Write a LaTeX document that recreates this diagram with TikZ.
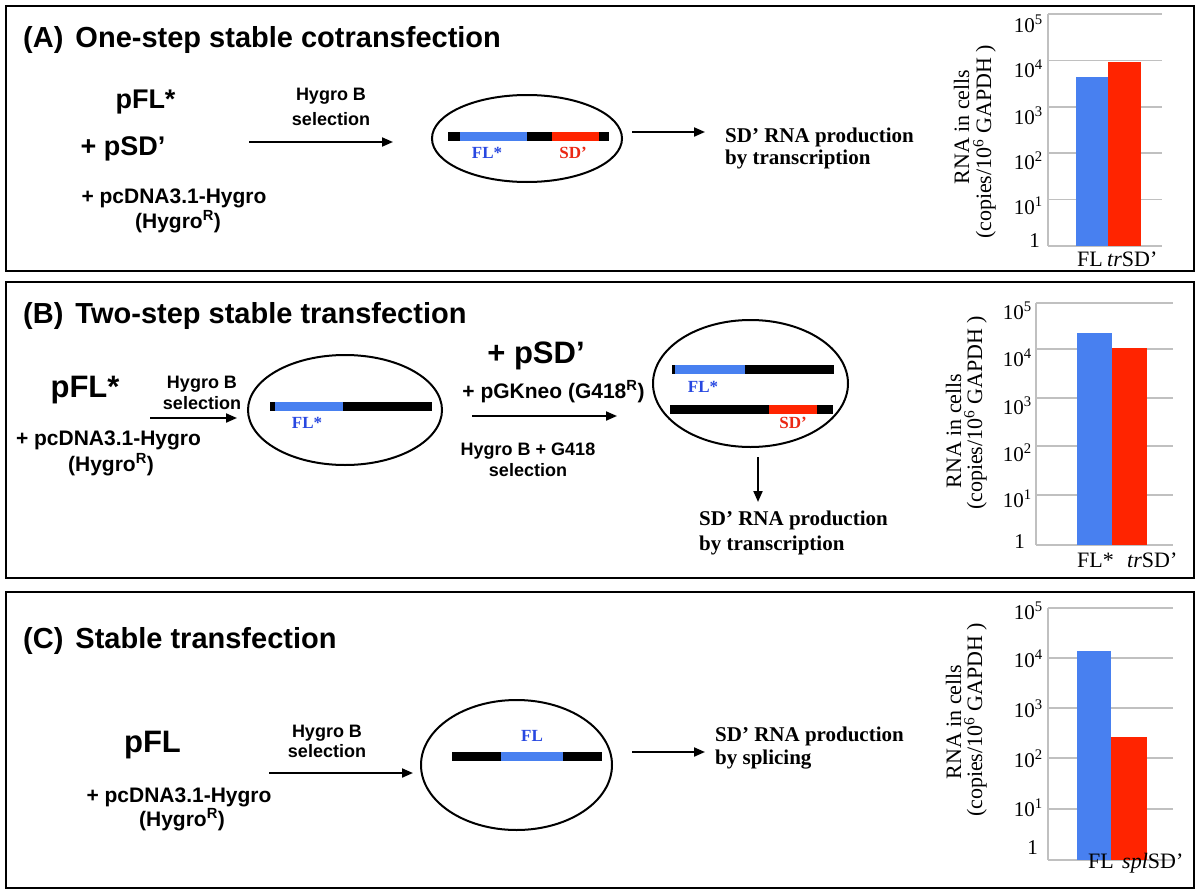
\documentclass[tikz,border=0pt]{standalone}
\usepackage{fontspec}
\setmainfont{Liberation Serif}
\setsansfont{Liberation Sans}
\usetikzlibrary{arrows.meta,shapes.geometric}
\definecolor{barblue}{RGB}{72,128,240}
\definecolor{barred}{RGB}{255,36,0}
\definecolor{txtblue}{RGB}{40,72,225}
\definecolor{txtred}{RGB}{235,40,20}
\definecolor{gridgray}{RGB}{192,192,192}
\tikzset{
 panel/.style={draw=black, line width=2.6pt},
 arr/.style={line width=2pt, -{Triangle[length=11pt,width=9pt]}},
 ttl/.style={font=\sffamily\bfseries\fontsize{29}{32}\selectfont, anchor=base west, inner sep=0pt},
 bigA/.style={font=\sffamily\bfseries\fontsize{27}{32}\selectfont, anchor=base, inner sep=0pt},
 big/.style={font=\sffamily\bfseries\fontsize{31}{36}\selectfont, anchor=base, inner sep=0pt},
 mid/.style={font=\sffamily\bfseries\fontsize{21}{24}\selectfont, anchor=base, inner sep=0pt},
 sel/.style={font=\sffamily\bfseries\fontsize{18}{20}\selectfont, anchor=base, inner sep=0pt},
 res/.style={font=\rmfamily\bfseries\fontsize{21}{24}\selectfont, anchor=base west, inner sep=0pt},
 cell/.style={draw, ellipse, line width=2pt, inner sep=0pt},
 dna/.style={line width=9pt},
 glab/.style={font=\rmfamily\bfseries\fontsize{17}{20}\selectfont, anchor=base, inner sep=0pt},
 ticklab/.style={font=\rmfamily\fontsize{21}{24}\selectfont, anchor=base east, inner sep=0pt},
 axl/.style={font=\rmfamily\fontsize{22}{24}\selectfont, anchor=base, rotate=90, inner sep=0pt},
 xl/.style={font=\rmfamily\fontsize{22}{24}\selectfont, anchor=base west, inner sep=0pt},
 gline/.style={draw=gridgray, line width=1.5pt},
}
\begin{document}
\begin{tikzpicture}[x=1pt,y=-1pt]
\fill[white] (0,0) rectangle (1200,894);
\useasboundingbox (0,0) rectangle (1200,894);

% ---------------- Panel A ----------------
\draw[panel] (6,6) rectangle (1194,271);
\node[ttl] (tA) at (23,47) {(A)\hspace{4pt} One-step stable cotransfection};
\node[bigA] (pflA) at (145.5,108) {pFL*};
\node[bigA] (psdA) at (123,155) {+ pSD’};
\node[mid] (pcA) at (174,203) {+ pcDNA3.1-Hygro};
\node[mid] (hrA) at (178,228) {(Hygro\textsuperscript{R})};
\node[sel] (hbA) at (331,100) {Hygro B};
\node[sel] (slA) at (331,125) {selection};
\coordinate (a1s) at (249,142);
\coordinate (a1e) at (393,142);
\draw[arr] (a1s) -- (a1e);
\node[cell, minimum width=190pt, minimum height=87pt] (cellA) at (527,138.5) {};
\draw[dna] (448,136) -- (609,136);
\draw[dna, barblue] (460,136) -- (527,136);
\draw[dna, barred] (552,136) -- (599,136);
\node[glab, txtblue] (flA) at (487,158) {FL*};
\node[glab, txtred] (sdA) at (573,158) {SD’};
\coordinate (a2s) at (632,132);
\coordinate (a2e) at (705,132);
\draw[arr] (a2s) -- (a2e);
\node[res] (r1A) at (725,142) {SD’ RNA production};
\node[res] (r2A) at (725,164) {by transcription};

% chart A
\foreach \yy in {14,60.4,106.8,153.2,199.6,246} \draw[gline] (1048,\yy) -- (1162,\yy);
\draw[gline] (1048,14) -- (1048,246);
\fill[barblue] (1076,77) rectangle (1108,246);
\fill[barred] (1108,62) rectangle (1141,246);
\node[ticklab] (yA5) at (1043,32) {10\textsuperscript{5}};
\node[ticklab] (yA4) at (1043,77) {10\textsuperscript{4}};
\node[ticklab] (yA3) at (1043,124) {10\textsuperscript{3}};
\node[ticklab] (yA2) at (1043,169) {10\textsuperscript{2}};
\node[ticklab] (yA1) at (1043,214) {10\textsuperscript{1}};
\node[ticklab] (yA0) at (1040,247) {1};
\node[axl] (lA1) at (969,127) {RNA in cells};
\node[axl] (lA2) at (991,142) {(copies/10\textsuperscript{6} GAPDH )};
\node[xl] (xA1) at (1077,266) {FL};
\node[xl] (xA2) at (1107,266) {\textit{tr}SD’};

% ---------------- Panel B ----------------
\draw[panel] (6,282) rectangle (1194,578);
\node[ttl] (tB) at (23,323) {(B)\hspace{4pt} Two-step stable transfection};
\node[big] (pflB) at (85,397) {pFL*};
\node[sel] (hbB) at (202,388) {Hygro B};
\node[sel] (slB) at (202,409) {selection};
\coordinate (b1s) at (150,418);
\coordinate (b1e) at (237,418);
\draw[arr] (b1s) -- (b1e);
\node[mid] (pcB) at (108.5,445) {+ pcDNA3.1-Hygro};
\node[mid] (hrB) at (111,471) {(Hygro\textsuperscript{R})};
\node[cell, minimum width=194pt, minimum height=110pt] (cellB1) at (345,410) {};
\draw[dna] (270,406) -- (432,406);
\draw[dna, barblue] (275,406) -- (343,406);
\node[glab, txtblue] (flB1) at (307,428) {FL*};
\node[big] (psdB) at (536,363) {+ pSD’};
\node[mid] (pgB) at (553.5,398) {+ pGKneo (G418\textsuperscript{R})};
\coordinate (b2s) at (472,416);
\coordinate (b2e) at (617,416);
\draw[arr] (b2s) -- (b2e);
\node[sel] (hgB) at (528,455) {Hygro B + G418};
\node[sel] (sgB) at (528,476) {selection};
\node[cell, minimum width=195pt, minimum height=127pt] (cellB2) at (750.5,383.5) {};
\draw[dna] (672,369) -- (834,369);
\draw[dna, barblue] (675,369) -- (745,369);
\node[glab, txtblue] (flB2) at (703,392) {FL*};
\draw[dna] (670,409) -- (833,409);
\draw[dna, barred] (769,409) -- (817,409);
\node[glab, txtred] (sdB) at (793,428) {SD’};
\coordinate (b3s) at (758,457);
\coordinate (b3e) at (758,502);
\draw[arr] (b3s) -- (b3e);
\node[res] (r1B) at (699,525) {SD’ RNA production};
\node[res] (r2B) at (699,550) {by transcription};

% chart B
\foreach \yy in {303,349,398,446,495,545} \draw[gline] (1036,\yy) -- (1173,\yy);
\draw[gline] (1036,303) -- (1036,545);
\fill[barblue] (1077,333) rectangle (1112,545);
\fill[barred] (1112,348) rectangle (1147,545);
\node[ticklab] (yB5) at (1032,319) {10\textsuperscript{5}};
\node[ticklab] (yB4) at (1032,366) {10\textsuperscript{4}};
\node[ticklab] (yB3) at (1032,414) {10\textsuperscript{3}};
\node[ticklab] (yB2) at (1032,461) {10\textsuperscript{2}};
\node[ticklab] (yB1) at (1032,507) {10\textsuperscript{1}};
\node[ticklab] (yB0) at (1025,548) {1};
\node[axl] (lB1) at (961,431) {RNA in cells};
\node[axl] (lB2) at (982,413) {(copies/10\textsuperscript{6} GAPDH )};
\node[xl] (xB1) at (1077,567) {FL*};
\node[xl] (xB2) at (1127,567) {\textit{tr}SD’};

% ---------------- Panel C ----------------
\draw[panel] (6,592) rectangle (1194,888);
\node[ttl] (tC) at (23,648) {(C)\hspace{4pt} Stable transfection};
\node[big] (pflC) at (152.5,752) {pFL};
\node[mid] (pcC) at (179,802) {+ pcDNA3.1-Hygro};
\node[mid] (hrC) at (182,826) {(Hygro\textsuperscript{R})};
\node[sel] (hbC) at (327,737) {Hygro B};
\node[sel] (slC) at (327,757) {selection};
\coordinate (c1s) at (269,773);
\coordinate (c1e) at (413,773);
\draw[arr] (c1s) -- (c1e);
\node[cell, minimum width=191pt, minimum height=130pt] (cellC) at (516.5,765) {};
\draw[dna] (452,756) -- (602,756);
\draw[dna, barblue] (501,756) -- (563,756);
\node[glab, txtblue] (flC) at (532,741) {FL};
\coordinate (c2s) at (632,752);
\coordinate (c2e) at (705,752);
\draw[arr] (c2s) -- (c2e);
\node[res] (r1C) at (715,741) {SD’ RNA production};
\node[res] (r2C) at (715,764) {by splicing};

% chart C
\foreach \yy in {608,658,708,758,809,860} \draw[gline] (1048,\yy) -- (1173,\yy);
\draw[gline] (1048,608) -- (1048,860);
\fill[barblue] (1077,651) rectangle (1111,860);
\fill[barred] (1111,737) rectangle (1147,860);
\node[ticklab] (yC5) at (1043,619) {10\textsuperscript{5}};
\node[ticklab] (yC4) at (1043,667) {10\textsuperscript{4}};
\node[ticklab] (yC3) at (1043,717) {10\textsuperscript{3}};
\node[ticklab] (yC2) at (1043,767) {10\textsuperscript{2}};
\node[ticklab] (yC1) at (1043,816) {10\textsuperscript{1}};
\node[ticklab] (yC0) at (1038,854) {1};
\node[axl] (lC1) at (961,722) {RNA in cells};
\node[axl] (lC2) at (982,720) {(copies/10\textsuperscript{6} GAPDH )};
\node[xl] (xC1) at (1088,868) {FL};
\node[xl] (xC2) at (1122,868) {\textit{spl}SD’};
\end{tikzpicture}
\end{document}
